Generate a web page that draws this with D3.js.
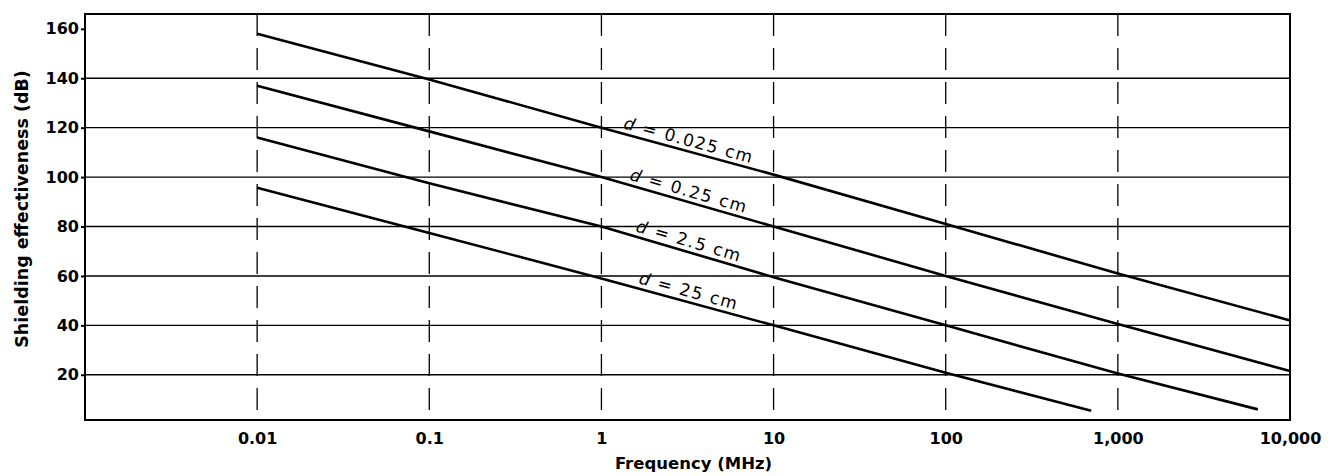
<!DOCTYPE html>
<html>
<head>
<meta charset="utf-8">
<script src="https://cdn.jsdelivr.net/npm/d3@7"></script>
<style>
  body { margin: 0; background: #fff; }
  text { font-family: "DejaVu Sans", sans-serif; fill: #000; }
</style>
</head>
<body>
<svg id="chart" width="1338" height="476"></svg>
<script>
// values
const freqTicks = [0.01, 0.1, 1, 10, 100, 1000, 10000]
const freqTickLabels = ['0.01', '0.1', '1', '10', '100', '1,000', '10,000']
const dbTicks = [20, 40, 60, 80, 100, 120, 140, 160]
const dbGrid = [20, 40, 60, 80, 100, 120, 140]
const thickness = ['0.025', '0.25', '2.5', '25']

const freqA = [0.01, 0.1, 1, 10, 100, 1000, 10000]
const seA = [158, 139.5, 120, 101, 81, 61, 42]
const freqB = [0.01, 0.1, 1, 10, 100, 1000, 10000]
const seB = [137, 118.5, 100, 80, 60, 40.5, 21.5]
const freqC = [0.01, 0.1, 1, 10, 100, 1000, 6500]
const seC = [116, 97.5, 80, 59.5, 40, 20.5, 6]
const freqD = [0.01, 0.1, 1, 10, 100, 700]
const seD = [95.7, 77.4, 59, 40, 20.8, 5.4]

const labelFreq = 3.1

const series = [
  {d: thickness[0], f: freqA, v: seA},
  {d: thickness[1], f: freqB, v: seB},
  {d: thickness[2], f: freqC, v: seC},
  {d: thickness[3], f: freqD, v: seD}
].map(s => ({...s, pts: s.f.map((f, i) => [f, s.v[i]])}))

const svg = d3.select('#chart')
const box = {left: 85, right: 1290, top: 14, bottom: 420}

const x = d3.scaleLog().domain([0.001, 10000]).range([box.left, box.right])
const y = d3.scaleLinear().domain([1.7, 166]).range([box.bottom, box.top])

// horizontal grid
svg.append('g')
  .selectAll('line')
  .data(dbGrid)
  .join('line')
  .attr('x1', box.left).attr('x2', box.right)
  .attr('y1', d => y(d)).attr('y2', d => y(d))
  .attr('stroke', '#000')
  .attr('stroke-width', 1.4)

// vertical grid, broken like the scan
svg.append('g')
  .selectAll('line')
  .data(freqTicks.slice(0, -1))
  .join('line')
  .attr('x1', d => x(d)).attr('x2', d => x(d))
  .attr('y1', box.top).attr('y2', box.bottom)
  .attr('stroke', '#000')
  .attr('stroke-width', 1.3)
  .attr('stroke-dasharray', '22,12')

// frame
svg.append('rect')
  .attr('x', box.left).attr('y', box.top)
  .attr('width', box.right - box.left).attr('height', box.bottom - box.top)
  .attr('fill', 'none')
  .attr('stroke', '#000')
  .attr('stroke-width', 2)

// axes
const yAxis = svg.append('g')
  .attr('transform', `translate(${box.left},0)`)
  .call(d3.axisLeft(y).tickValues(dbTicks).tickSize(4).tickPadding(2))
yAxis.select('.domain').remove()
yAxis.selectAll('text')
  .attr('font-family', 'DejaVu Sans').attr('font-weight', 'bold').attr('font-size', 16)
yAxis.selectAll('line').attr('stroke-width', 2)

const xAxis = svg.append('g')
  .attr('transform', `translate(0,${box.bottom})`)
  .call(d3.axisBottom(x).tickValues(freqTicks).tickFormat((d, i) => freqTickLabels[i]).tickSize(0).tickPadding(13))
xAxis.select('.domain').remove()
xAxis.selectAll('text')
  .attr('font-family', 'DejaVu Sans').attr('font-weight', 'bold').attr('font-size', 16)

// curves
const line = d3.line().x(d => x(d[0])).y(d => y(d[1]))
svg.append('g')
  .selectAll('path')
  .data(series)
  .join('path')
  .attr('d', d => line(d.pts))
  .attr('fill', 'none')
  .attr('stroke', '#000')
  .attr('stroke-width', 2.6)

// curve labels, laid along each line
series.forEach(s => {
  const k = s.pts.findIndex(p => p[0] > labelFreq)
  const p0 = s.pts[k - 1], p1 = s.pts[k]
  const x0 = x(p0[0]), y0 = y(p0[1]), x1 = x(p1[0]), y1 = y(p1[1])
  const px = x(labelFreq)
  const py = y0 + (y1 - y0) * (px - x0) / (x1 - x0)
  const angle = Math.atan2(y1 - y0, x1 - x0) * 180 / Math.PI
  const t = svg.append('text')
    .attr('transform', `translate(${px},${py}) rotate(${angle})`)
    .attr('y', -5)
    .attr('text-anchor', 'middle')
    .attr('font-size', 17)
    .attr('letter-spacing', 1.5)
  t.append('tspan').attr('font-style', 'italic').text('d')
  t.append('tspan').text(` = ${s.d} cm`)
})

// axis titles
svg.append('text')
  .attr('x', (box.left + box.right) / 2 + 6).attr('y', 469)
  .attr('text-anchor', 'middle')
  .attr('font-size', 16.5).attr('font-weight', 'bold')
  .text('Frequency (MHz)')

svg.append('text')
  .attr('transform', `translate(28,209) rotate(-90)`)
  .attr('text-anchor', 'middle')
  .attr('font-size', 17.5).attr('font-weight', 'bold')
  .text('Shielding effectiveness (dB)')
</script>
</body>
</html>
